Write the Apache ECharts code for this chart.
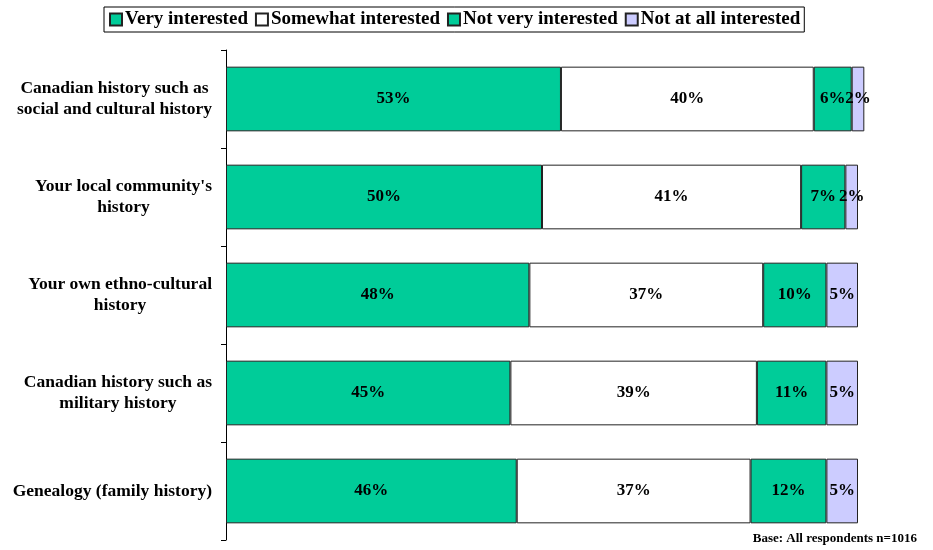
<!DOCTYPE html>
<html><head><meta charset="utf-8">
<script src="https://cdn.jsdelivr.net/npm/echarts@6/dist/echarts.min.js"></script>
<style>html,body{margin:0;padding:0;background:#fff}#c{width:933px;height:550px}</style>
</head><body><div id="c"></div>
<script>
var categories = ["Canadian history such as\nsocial and cultural history","Your local community's\nhistory","Your own ethno-cultural\nhistory","Canadian history such as\nmilitary history","Genealogy (family history)"];
var seriesNames = ["Very interested","Somewhat interested","Not very interested","Not at all interested"];
var veryInterested = [53,50,48,45,46];
var somewhatInterested = [40,41,37,39,37];
var notVeryInterested = [6,7,10,11,12];
var notAtAllInterested = [2,2,5,5,5];
var colors = ["#00CC99","#FFFFFF","#00CC99","#CCCCFF"];
var FONT = "'Liberation Serif','Times New Roman',serif";
var values = [veryInterested, somewhatInterested, notVeryInterested, notAtAllInterested];
var chart = echarts.init(document.getElementById('c'), null, {renderer:'canvas'});
var series = seriesNames.map(function(n,i){
  return {
    name:n, type:'bar', stack:'total', data:values[i], clip:false,
    barCategoryGap:'34%',
    itemStyle:{color:colors[i], borderColor:'#222', borderWidth:1},
    label:{show:true, position:'inside', formatter:'{c}%', color:'#000', fontFamily:FONT, fontWeight:'bold', fontSize:17},
    emphasis:{disabled:true}
  };
});
chart.setOption({
  animation:false,
  textStyle:{fontFamily:FONT},
  legend:{
    top:7, left:104, data:seriesNames,
    icon:'rect', itemWidth:12, itemHeight:12, itemGap:7,
    borderColor:'#000', borderWidth:1, padding:[3,4,3,5],
    textStyle:{fontFamily:FONT, fontWeight:'bold', fontSize:19, color:'#000', padding:[0,0,0,-2]},
    selectedMode:false
  },
  grid:{left:226, right:75, top:50, bottom:10, containLabel:false},
  xAxis:{type:'value', min:0, max:100, show:false},
  yAxis:{type:'category', data:categories, inverse:true,
    axisLine:{lineStyle:{color:'#000', width:1}},
    axisTick:{show:true, length:5, lineStyle:{color:'#000'}},
    axisLabel:{align:'right', margin:14, color:'#000',
      formatter:function(v){ return v.split('\n').map(function(s){return '{a|'+s+'}';}).join('\n'); },
      rich:{a:{align:'center', fontFamily:FONT, fontWeight:'bold', fontSize:17.5, lineHeight:21, color:'#000'}}
    }
  },
  series:series,
  graphic:[{type:'text', right:16, top:532, style:{text:'Base: All respondents n=1016', font:"bold 13px 'Liberation Serif',serif", fill:'#000'}}]
});
</script></body></html>
